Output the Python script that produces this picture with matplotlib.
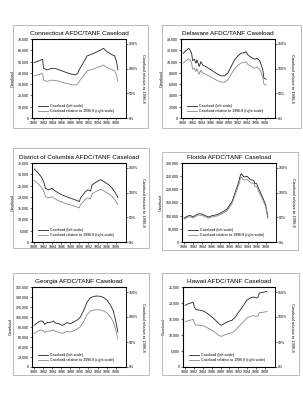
import numpy as np
import matplotlib.pyplot as plt
from matplotlib.patches import Rectangle
from matplotlib.ticker import FuncFormatter, MultipleLocator

plt.rcParams['font.family'] = ['Liberation Sans', 'DejaVu Sans']

# --- data (caseload, monthly-ish samples) ---
ct_years = [1980.0, 1981.0, 1981.85, 1982.07, 1982.8, 1983.9, 1985.0, 1986.5, 1988.0, 1989.1,
            1989.6, 1990.0, 1991.0, 1991.7, 1993.2, 1994.7, 1995.3, 1996.1, 1997.3, 1997.8,
            1998.2, 1998.5]
ct_cases = [49100, 50600, 52000, 44100, 42600, 44100, 43500, 41200, 39100, 38200,
            39700, 43200, 50000, 55000, 57300, 60300, 61700, 58800, 55900, 55000,
            50000, 42600]
ct_base = 57500

de_years = [1980.0, 1980.6, 1981.2, 1981.5, 1981.85, 1982.07, 1982.45, 1982.8, 1983.0, 1983.55,
            1983.9, 1984.3, 1985.0, 1986.15, 1987.25, 1988.35, 1989.1, 1989.85, 1990.6, 1991.35,
            1992.1, 1992.8, 1993.55, 1993.9, 1994.3, 1995.0, 1995.8, 1996.3, 1996.9, 1997.25,
            1997.6, 1997.85, 1998.35]
de_cases = [11470, 11940, 12350, 12060, 11470, 10180, 10400, 9700, 10300, 9120,
            10000, 9400, 9100, 8530, 7940, 7470, 7470, 7940, 9120, 10300,
            11000, 11470, 11590, 11760, 11180, 10760, 10400, 10590, 10180, 9400,
            8530, 7060, 6880]
de_base = 10300

dc_years = [1980.0, 1980.75, 1981.5, 1981.9, 1982.2, 1982.45, 1983.2, 1983.9, 1984.3, 1985.4,
            1986.5, 1987.6, 1988.75, 1989.5, 1990.0, 1990.2, 1991.3, 1991.85, 1992.45, 1992.8,
            1993.9, 1994.7, 1995.4, 1996.5, 1997.25, 1998.0, 1998.5]
dc_cases = [32300, 30800, 29000, 27500, 26000, 23800, 23100, 23800, 23100, 21600,
            20550, 19700, 18900, 18300, 17900, 19400, 22300, 23100, 22600, 25300,
            26800, 27600, 26800, 25300, 23800, 21600, 19700]
dc_base = 25900

fl_years = [1980.0, 1980.6, 1981.35, 1981.9, 1982.45, 1983.2, 1983.9, 1984.65, 1985.4, 1986.15,
            1987.25, 1988.35, 1989.5, 1990.6, 1991.35, 1992.1, 1992.45, 1992.65, 1993.2, 1993.9,
            1994.65, 1995.4, 1995.6, 1996.0, 1996.5, 1997.25, 1998.0, 1998.5]
fl_cases = [91100, 97500, 101300, 95000, 101300, 107600, 106300, 100000, 95000, 100000,
            103800, 112700, 125300, 154500, 192400, 230400, 255700, 259500, 246900, 249400,
            236700, 234100, 221500, 222000, 201300, 173400, 141800, 95000]
fl_base = 197000

ga_years = [1980.0, 1980.6, 1981.35, 1981.9, 1982.3, 1982.8, 1983.55, 1984.3, 1984.65, 1985.4,
            1986.15, 1986.65, 1987.25, 1988.0, 1988.75, 1989.6, 1990.2, 1990.95, 1991.7, 1992.45,
            1993.2, 1993.9, 1994.65, 1995.4, 1996.15, 1996.9, 1997.5, 1998.0, 1998.5]
ga_cases = [83300, 88000, 92000, 91300, 85300, 88700, 89300, 92000, 88000, 86700,
            83300, 85300, 88700, 86700, 90000, 94700, 100000, 113300, 130000, 138700,
            141300, 142000, 141300, 138700, 133300, 123300, 112000, 93300, 70000]
ga_base = 124000

hi_years = [1980.0, 1980.75, 1981.5, 1981.8, 1982.05, 1982.45, 1983.55, 1984.3, 1985.4, 1986.5,
            1987.6, 1988.15, 1988.75, 1989.85, 1990.6, 1991.35, 1992.1, 1993.2, 1993.9, 1994.65,
            1995.4, 1996.15, 1996.5, 1996.75, 1997.25, 1998.0, 1998.5]
hi_cases = [19270, 19800, 20100, 20300, 18750, 17900, 17700, 17400, 16350, 15100,
            13540, 13020, 13540, 14270, 14600, 15630, 17190, 19270, 20830, 21560,
            21880, 21560, 21880, 23125, 23230, 23440, 23650]
hi_base = 21300

titles = ['Connecticut AFDC/TANF Caseload', 'Delaware AFDC/TANF Caseload',
          'District of Columbia AFDC/TANF Caseload', 'Florida AFDC/TANF Caseload',
          'Georgia AFDC/TANF Caseload', 'Hawaii AFDC/TANF Caseload']
left_max = [70000, 14000, 35000, 300000, 160000, 25000]
left_step = [10000, 2000, 5000, 50000, 20000, 5000]
year_ticks = list(range(1980, 1999, 2))
legend_labels = ['Caseload (left scale)', 'Caseload relative to 1996:8 (right scale)']

series = [(ct_years, ct_cases, ct_base), (de_years, de_cases, de_base),
          (dc_years, dc_cases, dc_base), (fl_years, fl_cases, fl_base),
          (ga_years, ga_cases, ga_base), (hi_years, hi_cases, hi_base)]

# layout in pixels (left, top, right, bottom): outer frame and plot area
W, H = 303, 400
frames = [(13, 25, 148, 128), (162, 25, 301, 128),
          (13, 148, 149, 248), (162, 152, 298, 250),
          (13, 273, 149, 375), (162, 273, 299, 375)]
plots = [(32, 39, 126, 118), (181, 39, 275, 118),
         (32, 163, 126, 242), (182, 163, 276, 242),
         (32, 287, 126, 367), (183, 287, 275, 367)]

fig = plt.figure(figsize=(W / 100, H / 100), dpi=100)

def fbox(b):
    l, t, r, bt = b
    return [l / W, 1 - bt / H, (r - l) / W, (bt - t) / H]

fs = 2.6
for i in range(6):
    x0, y0, w, h = fbox(frames[i])
    fig.add_artist(Rectangle((x0, y0), w, h, transform=fig.transFigure,
                             fill=False, ec='#b0b0b0', lw=0.6))
    years, cases, base = series[i]
    rel = np.array(cases) / base * 100

    ax = fig.add_axes(fbox(plots[i]))
    ax.plot(years, cases, color='#222222', lw=0.6)
    ax.set_ylim(0, left_max[i])
    ax.set_xlim(1979.5, 2000.3)
    ax.yaxis.set_major_locator(MultipleLocator(left_step[i]))
    ax.yaxis.set_major_formatter(FuncFormatter(lambda v, p: '{:,.0f}'.format(v)))
    ax.set_xticks(year_ticks)
    ax.set_xticklabels([str(y) for y in year_ticks])
    ax.xaxis.set_minor_locator(MultipleLocator(1))
    ax.tick_params(labelsize=fs, length=1.2, width=0.4, pad=1)
    ax.tick_params(which='minor', length=0.8, width=0.3)
    ax.set_ylabel('Caseload', fontsize=fs + 0.3, labelpad=2)
    ax.set_title(titles[i], fontsize=4.6, pad=3)
    for s in ax.spines.values():
        s.set_linewidth(0.5)

    ax2 = ax.twinx()
    ax2.plot(years, rel, color='#888888', lw=0.6)
    ax2.set_ylim(0, 160)
    ax2.set_yticks([0, 50, 100, 150])
    ax2.set_yticklabels(['0%', '50%', '100%', '150%'])
    ax2.tick_params(labelsize=fs, length=1.2, width=0.4, pad=1)
    ax2.set_ylabel('Caseload relative to 1996:8', fontsize=fs + 0.3, rotation=270, labelpad=5)
    ax2.spines['right'].set_linewidth(0.5)

    h1 = ax.get_lines()[0]
    h2 = ax2.get_lines()[0]
    ax.legend([h1, h2], legend_labels, loc='lower left', bbox_to_anchor=(0.04, 0.03),
              fontsize=fs, frameon=False, handlelength=2.6, borderpad=0.2,
              labelspacing=0.3, handletextpad=0.6)

fig.savefig('out.png', dpi=100, facecolor='white')
